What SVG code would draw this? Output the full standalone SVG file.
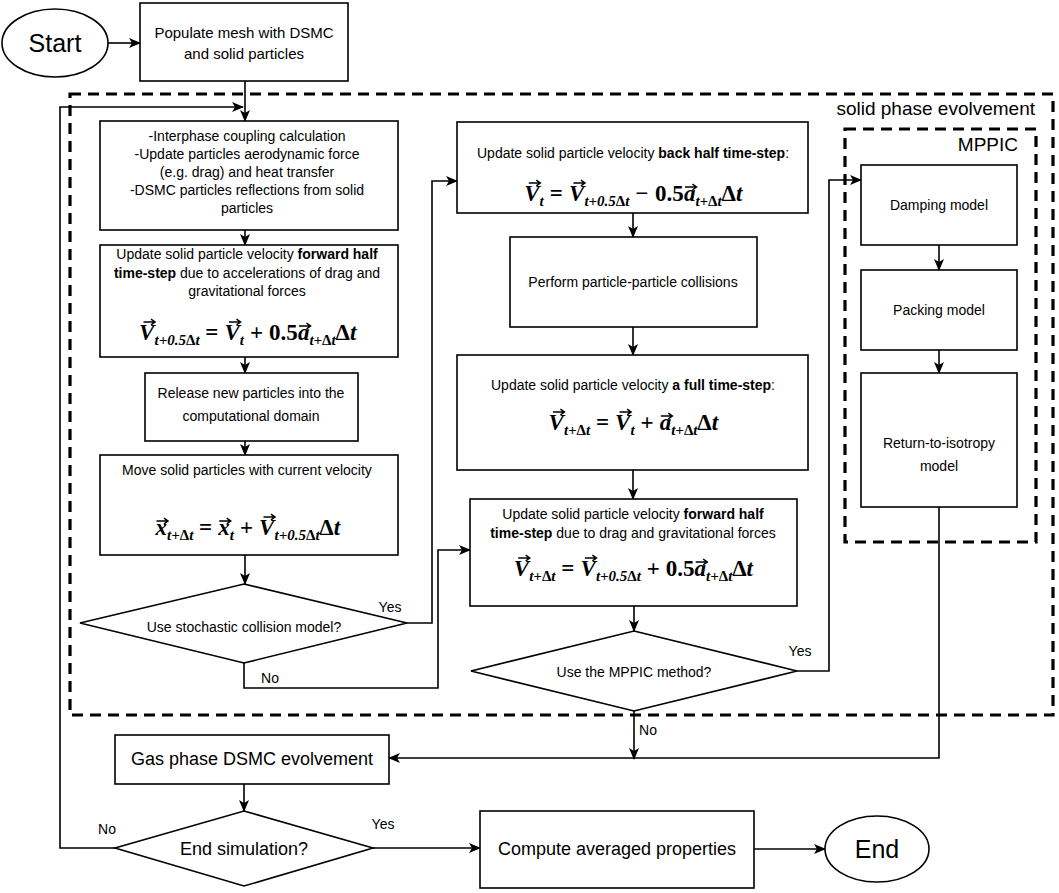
<svg xmlns="http://www.w3.org/2000/svg" width="1059" height="893" viewBox="0 0 1059 893">
<defs>
<marker id="arr" markerWidth="12" markerHeight="10" refX="11" refY="5" orient="auto" markerUnits="userSpaceOnUse">
<path d="M0,0 L12,5 L0,10 L3,5 Z" fill="#000"/>
</marker>
<path id="vec" d="M0,0 H11 M7.5,-2.8 L11.5,0 L7.5,2.8" fill="none" stroke="#000" stroke-width="1.5"/>
<style>
.box{fill:#fff;stroke:#000;stroke-width:1.6}
.dash{fill:none;stroke:#000;stroke-width:3.2;stroke-dasharray:11 7}
.ln{fill:none;stroke:#000;stroke-width:1.6}
.ar{fill:none;stroke:#000;stroke-width:1.6;marker-end:url(#arr)}
.t{font-family:"Liberation Sans",Arial,sans-serif;font-size:14px;fill:#000;text-anchor:middle}
.b{font-weight:bold}
.big{font-size:25px}
.m{font-size:18px}
.lab{font-family:"Liberation Sans",Arial,sans-serif;font-size:19px;fill:#000;text-anchor:end}
.eq{font-family:"Liberation Serif","Times New Roman",serif;font-size:23px;font-weight:bold;font-style:italic;fill:#000}
.up{font-style:normal}
.sb{font-size:15px}
</style>
</defs>

<g id="containers">
<rect class="dash" x="70" y="94" width="983" height="621"/>
<text class="lab" x="1035" y="115">solid phase evolvement</text>
<rect class="dash" x="845" y="129" width="191" height="413"/>
<text class="lab" x="1018" y="151">MPPIC</text>
</g>

<g id="connectors">
<path class="ar" d="M108,43 L140,43"/>
<path class="ar" d="M245,81 L245,121"/>
<path class="ar" d="M115,848 L60,848 L60,107 L243,107"/>
<path class="ar" d="M245,230 L245,245"/>
<path class="ar" d="M245,357 L245,373"/>
<path class="ar" d="M245,441 L245,455"/>
<path class="ar" d="M245,555 L245,584"/>
<path class="ar" d="M407,623 L432,623 L432,181 L457,181"/>
<path class="ar" d="M244,663 L244,688 L438,688 L438,550 L470,550"/>
<path class="ar" d="M633,213 L633,237"/>
<path class="ar" d="M633,327 L633,355"/>
<path class="ar" d="M633,470 L633,499"/>
<path class="ar" d="M634,606 L634,631"/>
<path class="ar" d="M797,671 L829,671 L829,180 L861,180"/>
<path class="ar" d="M634,711 L634,759"/>
<path class="ar" d="M939,245 L939,270"/>
<path class="ar" d="M939,350 L939,373"/>
<path class="ar" d="M939,507 L939,758 L389,758"/>
<path class="ar" d="M244,784 L244,811"/>
<path class="ar" d="M373,848 L480,848"/>
<path class="ar" d="M754,849 L825,849"/>
<text class="t" x="390" y="612">Yes</text>
<text class="t" x="270" y="683">No</text>
<text class="t" x="800" y="656">Yes</text>
<text class="t" x="648" y="735">No</text>
<text class="t" x="107" y="834">No</text>
<text class="t" x="383" y="829">Yes</text>
</g>

<g id="start">
<ellipse class="box" cx="55" cy="43" rx="53" ry="34"/>
<text class="t big" x="55" y="52">Start</text>
</g>

<g id="populate">
<rect class="box" x="140" y="3" width="208" height="78"/>
<text class="t" x="244" y="38" style="font-size:15px">Populate mesh with DSMC</text>
<text class="t" x="244" y="59" style="font-size:15px">and solid particles</text>
</g>

<g id="coupling">
<rect class="box" x="100" y="121" width="298" height="109"/>
<text class="t" x="247" y="141">-Interphase coupling calculation</text>
<text class="t" x="247" y="159">-Update particles aerodynamic force</text>
<text class="t" x="247" y="177">(e.g. drag) and heat transfer</text>
<text class="t" x="247" y="195">-DSMC particles reflections from solid</text>
<text class="t" x="247" y="213">particles</text>
</g>

<g id="forward-half">
<rect class="box" x="100" y="245" width="298" height="112"/>
<text class="t" x="247" y="259">Update solid particle velocity <tspan class="b">forward half</tspan></text>
<text class="t" x="247" y="278"><tspan class="b">time-step</tspan> due to accelerations of drag and</text>
<text class="t" x="247" y="296">gravitational forces</text>
<text class="eq" y="340"><tspan x="139">V</tspan><tspan class="sb" x="154.5" y="345">t+0.5<tspan class="up">Δ</tspan>t</tspan><tspan class="up" x="205.3" y="340">=</tspan><tspan x="224.4">V</tspan><tspan class="sb" x="239.8" y="345">t</tspan><tspan class="up" x="250" y="340">+</tspan><tspan class="up" x="269.1">0.5</tspan><tspan x="297.9">a</tspan><tspan class="sb" x="309.4" y="345">t+<tspan class="up">Δ</tspan>t</tspan><tspan x="335.5" y="340"><tspan class="up">Δ</tspan>t</tspan></text>
<use href="#vec" x="143.5" y="322"/><use href="#vec" x="229" y="322"/><use href="#vec" x="299" y="326"/>
</g>

<g id="release">
<rect class="box" x="145" y="373" width="213" height="68"/>
<text class="t" x="251" y="398">Release new particles into the</text>
<text class="t" x="251" y="421">computational domain</text>
</g>

<g id="move">
<rect class="box" x="100" y="455" width="298" height="100"/>
<text class="t" x="247" y="475">Move solid particles with current velocity</text>
<text class="eq" y="535"><tspan x="155.5">x</tspan><tspan class="sb" x="167" y="540">t+<tspan class="up">Δ</tspan>t</tspan><tspan class="up" x="199.1" y="535">=</tspan><tspan x="218.2">x</tspan><tspan class="sb" x="229.7" y="540">t</tspan><tspan class="up" x="239.9" y="535">+</tspan><tspan x="259">V</tspan><tspan class="sb" x="274.5" y="540">t+0.5<tspan class="up">Δ</tspan>t</tspan><tspan x="319.3" y="535"><tspan class="up">Δ</tspan>t</tspan></text>
<use href="#vec" x="156.5" y="521"/><use href="#vec" x="219.2" y="521"/><use href="#vec" x="263.5" y="517"/>
</g>

<g id="stochastic">
<polygon class="box" points="244,584 407,623 244,663 80,623"/>
<text class="t" x="244" y="632">Use stochastic collision model?</text>
</g>

<g id="back-half">
<rect class="box" x="457" y="122" width="351" height="91"/>
<text class="t" x="633" y="158">Update solid particle velocity <tspan class="b">back half time-step</tspan>:</text>
<text class="eq" y="201"><tspan x="524.3">V</tspan><tspan class="sb" x="539.6" y="206">t</tspan><tspan class="up" x="549.8" y="201">=</tspan><tspan x="568.9">V</tspan><tspan class="sb" x="584.4" y="206">t+0.5<tspan class="up">Δ</tspan>t</tspan><tspan class="up" x="635.2" y="201">−</tspan><tspan class="up" x="655.1">0.5</tspan><tspan x="683.9">a</tspan><tspan class="sb" x="695.4" y="206">t+<tspan class="up">Δ</tspan>t</tspan><tspan x="721.5" y="201"><tspan class="up">Δ</tspan>t</tspan></text>
<use href="#vec" x="528.8" y="183"/><use href="#vec" x="573.4" y="183"/><use href="#vec" x="685" y="187"/>
</g>

<g id="collisions">
<rect class="box" x="510" y="237" width="247" height="90"/>
<text class="t" x="633" y="287">Perform particle-particle collisions</text>
</g>

<g id="full-step">
<rect class="box" x="457" y="355" width="351" height="115"/>
<text class="t" x="633" y="390">Update solid particle velocity <tspan class="b">a full time-step</tspan>:</text>
<text class="eq" y="430"><tspan x="548.4">V</tspan><tspan class="sb" x="563.9" y="435">t+<tspan class="up">Δ</tspan>t</tspan><tspan class="up" x="596" y="430">=</tspan><tspan x="615.1">V</tspan><tspan class="sb" x="630.4" y="435">t</tspan><tspan class="up" x="640.6" y="430">+</tspan><tspan x="659.7">a</tspan><tspan class="sb" x="671.2" y="435">t+<tspan class="up">Δ</tspan>t</tspan><tspan x="697.3" y="430"><tspan class="up">Δ</tspan>t</tspan></text>
<use href="#vec" x="552.9" y="412"/><use href="#vec" x="619.6" y="412"/><use href="#vec" x="660.8" y="416"/>
</g>

<g id="forward-half-2">
<rect class="box" x="470" y="499" width="327" height="107"/>
<text class="t" x="633" y="519">Update solid particle velocity <tspan class="b">forward half</tspan></text>
<text class="t" x="633" y="538"><tspan class="b">time-step</tspan> due to drag and gravitational forces</text>
<text class="eq" y="576"><tspan x="513.7">V</tspan><tspan class="sb" x="529.2" y="581">t+<tspan class="up">Δ</tspan>t</tspan><tspan class="up" x="561.3" y="576">=</tspan><tspan x="580.4">V</tspan><tspan class="sb" x="595.9" y="581">t+0.5<tspan class="up">Δ</tspan>t</tspan><tspan class="up" x="646.7" y="576">+</tspan><tspan class="up" x="665.8">0.5</tspan><tspan x="694.6">a</tspan><tspan class="sb" x="706.1" y="581">t+<tspan class="up">Δ</tspan>t</tspan><tspan x="732.2" y="576"><tspan class="up">Δ</tspan>t</tspan></text>
<use href="#vec" x="518.2" y="558"/><use href="#vec" x="584.9" y="558"/><use href="#vec" x="695.7" y="562"/>
</g>

<g id="mppic-decision">
<polygon class="box" points="634,631 797,671 634,711 471,671"/>
<text class="t" x="634" y="677">Use the MPPIC method?</text>
</g>

<g id="damping">
<rect class="box" x="861" y="165" width="156" height="80"/>
<text class="t" x="939" y="210">Damping model</text>
</g>

<g id="packing">
<rect class="box" x="861" y="270" width="156" height="80"/>
<text class="t" x="939" y="315">Packing model</text>
</g>

<g id="isotropy">
<rect class="box" x="861" y="373" width="156" height="134"/>
<text class="t" x="939" y="448">Return-to-isotropy</text>
<text class="t" x="939" y="471">model</text>
</g>

<g id="gas-phase">
<rect class="box" x="115" y="735" width="274" height="49"/>
<text class="t m" x="252" y="765">Gas phase DSMC evolvement</text>
</g>

<g id="end-decision">
<polygon class="box" points="244,811 373,848 244,886 115,848"/>
<text class="t m" x="244" y="855">End simulation?</text>
</g>

<g id="compute">
<rect class="box" x="480" y="811" width="274" height="77"/>
<text class="t m" x="617" y="855">Compute averaged properties</text>
</g>

<g id="end">
<ellipse class="box" cx="877" cy="849" rx="52" ry="33"/>
<text class="t big" x="877" y="858">End</text>
</g>
</svg>
